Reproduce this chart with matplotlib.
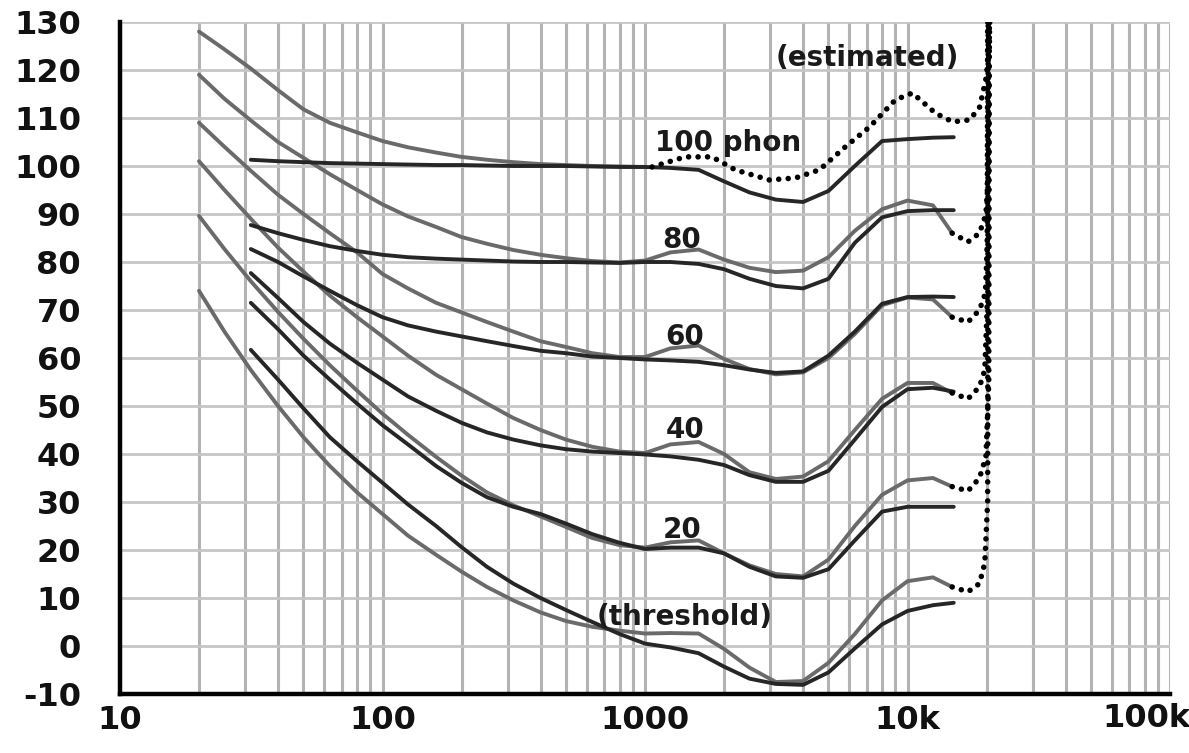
import numpy as np
import matplotlib
matplotlib.use("Agg")
import matplotlib.pyplot as plt

plt.rcParams['axes.unicode_minus'] = False

# frequency grids (Hz)
f_gray = [20, 25, 31.5, 40, 50, 63, 80, 100, 125, 160, 200, 250, 315, 400, 500, 630, 800,
          1000, 1250, 1600, 2000, 2500, 3150, 4000, 5000, 6300, 8000, 10000, 12500, 14800]
f_dark = [31.5, 40, 50, 63, 80, 100, 125, 160, 200, 250, 315, 400, 500, 630, 800,
          1000, 1250, 1600, 2000, 2500, 3150, 4000, 5000, 6300, 8000, 10000, 12500, 15000]

# gray contours (20 Hz .. 14.8 kHz), dB SPL
gray_0 = [74, 65.5, 57.5, 50, 43.5, 37.5, 32, 27.5, 23, 19, 15.5, 12.3, 9.5, 7, 5.2, 4, 3.2,
          2.6, 2.7, 2.6, -0.6, -4.5, -7.5, -7.3, -3.5, 2.5, 9.5, 13.5, 14.3, 12.3]
gray_20 = [89.6, 82.7, 76, 69.6, 64, 58.5, 53.2, 48.4, 44, 39.4, 35.5, 32, 29.3, 27, 24.8, 22.5, 21,
           20.5, 21.6, 22, 19.3, 16.8, 15, 14.5, 18, 25, 31.5, 34.5, 35, 33.2]
gray_40 = [101, 95, 89, 83, 78, 73, 68.5, 64.5, 60.5, 56.5, 53.5, 50.5, 47.5, 45, 43, 41.5, 40.5,
           40.2, 42, 42.5, 40, 36.2, 34.8, 35.3, 38.5, 45, 51.5, 54.8, 54.8, 52.7]
gray_60 = [109, 104, 99, 94, 90, 86, 82, 77.5, 74.5, 71.5, 69.5, 67.5, 65.5, 63.5, 62.3, 61, 60.2,
           60.2, 62, 62.6, 59.8, 57.7, 56.6, 57, 60, 65, 71, 72.6, 72.2, 68.5]
gray_80 = [119, 114, 109.5, 105, 101.7, 98.3, 95, 92, 89.5, 87.3, 85.2, 83.8, 82.5, 81.5, 80.8, 80.2, 79.9,
           80.3, 82, 82.6, 80.5, 78.8, 77.9, 78.2, 81, 86.5, 91, 92.8, 91.8, 86]
f_gray_100 = [20, 25, 31.5, 40, 50, 63, 80, 100, 125, 160, 200, 250, 315, 400, 500, 630, 800, 1000]
gray_100 = [128, 124.3, 120.3, 115.8, 111.8, 109, 107, 105.2, 103.9, 102.8, 101.9, 101.3, 100.8, 100.4,
            100.2, 100, 99.9, 99.8]

# dark contours (31.5 Hz .. 15 kHz)
dark_0 = [61.7, 55.5, 49.5, 43.5, 38.5, 34, 29.5, 25, 20.6, 16.5, 13, 10, 7.5, 5, 2.5,
          0.5, -0.3, -1.5, -4.3, -6.8, -7.9, -8.1, -5.5, -0.5, 4.5, 7.3, 8.5, 9]
dark_20 = [71.5, 66, 60.5, 55.5, 50.5, 46, 42, 37.5, 34, 31, 29, 27.5, 25.5, 23.3, 21.5,
           20.2, 20.5, 20.5, 19.3, 16.5, 14.5, 14.2, 16, 22, 28, 29, 29, 29]
dark_40 = [77.7, 72.5, 67.5, 63, 59, 55.5, 52, 49, 46.5, 44.5, 43, 41.8, 41, 40.5, 40.2,
           39.9, 39.5, 38.8, 37.7, 35.6, 34.2, 34.2, 36.5, 43, 49.8, 53.5, 53.8, 53]
dark_60 = [82.7, 80, 77, 74, 71, 68.5, 66.8, 65.5, 64.5, 63.5, 62.5, 61.5, 61, 60.3, 60,
           59.7, 59.5, 59.2, 58.5, 57.6, 56.9, 57.2, 60.5, 65.5, 71.3, 72.7, 72.8, 72.7]
dark_80 = [87.7, 86, 84.6, 83.3, 82.3, 81.5, 81, 80.7, 80.5, 80.3, 80.1, 80, 80, 79.9, 79.8,
           80, 80, 79.6, 78.5, 76.5, 75, 74.5, 76.5, 84, 89.3, 90.6, 90.8, 90.8]
dark_100 = [101.3, 101, 100.8, 100.6, 100.5, 100.4, 100.3, 100.2, 100.2, 100.1, 100, 100, 100, 99.9, 99.8,
            99.8, 99.6, 99.2, 96.8, 94.5, 93, 92.5, 94.8, 100, 105.2, 105.6, 105.9, 106]

# dotted "estimated" extensions
f_est_100 = [1064, 1420, 1800, 2207, 2974, 3740, 4615, 5800, 7160, 9000, 10440, 12790, 14850,
             17250, 18840, 19870, 20500, 20560]
est_100 = [99.8, 101.9, 101.9, 99.2, 97.1, 97.5, 99.2, 104, 108.1, 113.8, 115.2, 111, 109.2,
           109.6, 112.3, 118, 124, 130]
f_est_80 = [14800, 17000, 18800, 19900, 20400, 20400]
est_80 = [86, 84.2, 86, 90, 100, 130]
f_est_60 = [14800, 17000, 18800, 19800, 20200, 20300]
est_60 = [68.5, 67.5, 70, 73.5, 85, 130]
f_est_40 = [14800, 17000, 18800, 19700, 20100, 20200]
est_40 = [52.7, 51.5, 54, 57.5, 70, 130]
f_est_20 = [14800, 17000, 18800, 19900, 20400, 20500]
est_20 = [33.2, 32.3, 35, 39.4, 55, 130]
f_est_0 = [14800, 17000, 18800, 19700, 20200, 20300]
est_0 = [12.3, 11.3, 13, 17.3, 30, 130]

x_ticks = [10, 100, 1000, 10000, 100000]
x_labels = ['10', '100', '1000', '10k', '100k']
y_ticks = list(range(-10, 131, 10))

fig = plt.figure(figsize=(11.89, 7.53), dpi=100)
ax = fig.add_axes([120 / 1189, 1 - 694 / 753, 1050 / 1189, 672 / 753])
ax.set_xscale('log')
ax.set_xlim(10, 100000)
ax.set_ylim(-10, 130)

# grid
minor = [m * 10 ** d for d in range(1, 5) for m in range(2, 10)]
for v in minor + x_ticks[1:]:
    ax.axvline(v, color='#b3b3b3', lw=2.2, zorder=1)
for v in y_ticks[1:]:
    ax.axhline(v, color='#c6c6c6', lw=2.0, zorder=1)

gray = '#6a6a6a'
dark = '#262626'
lw = 2.8
for ys in [gray_0, gray_20, gray_40, gray_60, gray_80]:
    ax.plot(f_gray, ys, color=gray, lw=lw, solid_capstyle='round', solid_joinstyle='round', zorder=3)
ax.plot(f_gray_100, gray_100, color=gray, lw=lw, solid_capstyle='round', solid_joinstyle='round', zorder=3)
for ys in [dark_0, dark_20, dark_40, dark_60, dark_80, dark_100]:
    ax.plot(f_dark, ys, color=dark, lw=lw, solid_capstyle='round', solid_joinstyle='round', zorder=4)

dot = dict(color='black', lw=4, linestyle=(0, (0.01, 1.7)), dash_capstyle='round', zorder=5)
ax.plot(f_est_100, est_100, **dot)
ax.plot(f_est_80, est_80, **dot)
ax.plot(f_est_60, est_60, **dot)
ax.plot(f_est_40, est_40, **dot)
ax.plot(f_est_20, est_20, **dot)
ax.plot(f_est_0, est_0, **dot)

txt = dict(fontsize=20, fontweight='bold', color='#1a1a1a', ha='center', va='center', zorder=6)
ax.text(2075, 104.8, '100 phon', **txt)
ax.text(1383, 84.6, '80', **txt)
ax.text(1420, 64.4, '60', **txt)
ax.text(1420, 45, '40', **txt)
ax.text(1383, 24.2, '20', **txt)
ax.text(1420, 6, '(threshold)', **txt)
ax.text(7000, 122.5, '(estimated)', **txt)

for s in ['top', 'right']:
    ax.spines[s].set_visible(False)
for s in ['left', 'bottom']:
    ax.spines[s].set_linewidth(3.2)
    ax.spines[s].set_color('black')
    ax.spines[s].set_zorder(7)

ax.set_xticks(x_ticks)
ax.set_xticklabels(x_labels[:-1] + [''])
ax.xaxis.set_minor_locator(matplotlib.ticker.NullLocator())
ax.set_yticks(y_ticks)
ax.tick_params(length=0, labelsize=23, colors='#111111')
ax.tick_params(axis='y', pad=28)
ax.tick_params(axis='x', pad=8)
for lab in ax.get_xticklabels() + ax.get_yticklabels():
    lab.set_fontweight('bold')
# last label sits left of its tick, near the right edge, as in the original
ax.annotate(x_labels[-1], xy=(x_ticks[-1], -10), xytext=(-17, -17.5), textcoords='offset points',
            ha='center', va='center', fontsize=23, fontweight='bold', color='#111111',
            annotation_clip=False)

fig.savefig('out.png', dpi=100)
